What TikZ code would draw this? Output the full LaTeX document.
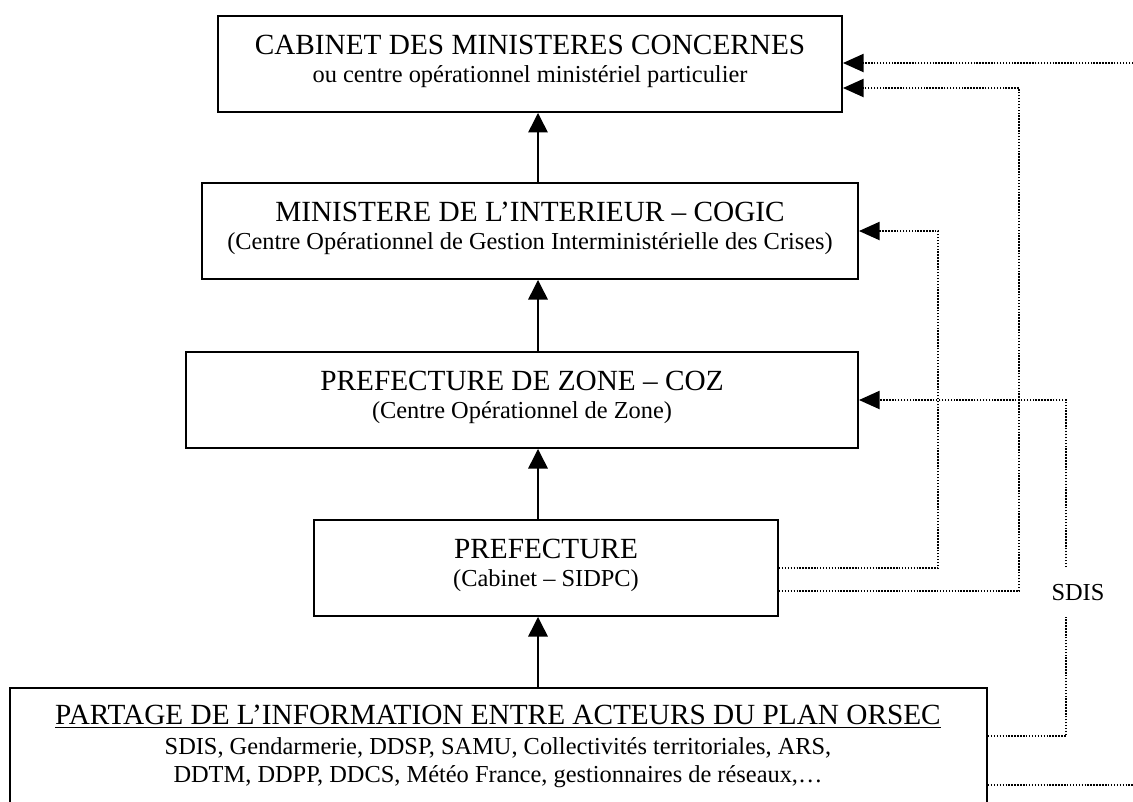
\documentclass[tikz,border=0pt]{standalone}
\usepackage{fontspec}
\setmainfont{Liberation Serif}
\usetikzlibrary{arrows.meta,fit}

\tikzset{
  box/.style={draw, line width=0.8pt, inner sep=0pt},
  title/.style={anchor=base, font=\large},
  sub/.style={anchor=base, font=\normalsize},
  flow/.style={line width=0.6pt, -{Triangle[length=8pt,width=8pt]}},
  linkline/.style={line width=0.6pt, dash pattern=on 0.6pt off 0.6pt},
  link/.style={linkline, -{Triangle[length=8.5pt,width=7.5pt]}}
}

\begin{document}
\begin{tikzpicture}[x=0.41pt, y=-0.41pt]
\useasboundingbox (0,0) rectangle (1133,801);
\clip (0,0) rectangle (1133,801);

% boxes
\node [box, fit={(218,16) (842,112)}] (cab) {};
\node [box, fit={(202,183) (858,279)}] (min) {};
\node [box, fit={(186,352) (858,448)}] (zone) {};
\node [box, fit={(314,520) (778,616)}] (pref) {};
\node [box, fit={(10,688) (987,830)}] (orsec) {};

\node [title] (cabTitle) at (530,54) {CABINET DES MINISTERES CONCERNES};
\node [sub] (cabSub) at (530,82) {ou centre opérationnel ministériel particulier};
\node [title] (minTitle) at (530,221) {MINISTERE DE L’INTERIEUR -- COGIC};
\node [sub] (minSub) at (530,249) {(Centre Opérationnel de Gestion Interministérielle des Crises)};
\node [title] (zoneTitle) at (522,390) {PREFECTURE DE ZONE -- COZ};
\node [sub] (zoneSub) at (522,418) {(Centre Opérationnel de Zone)};
\node [title] (prefTitle) at (546,558) {PREFECTURE};
\node [sub] (prefSub) at (546,586) {(Cabinet -- SIDPC)};
\node [title] (orsecTitle) at (498,724) {\underline{PARTAGE DE L’INFORMATION ENTRE ACTEURS DU PLAN ORSEC}};
\node [sub] (orsecLineA) at (498,754) {SDIS, Gendarmerie, DDSP, SAMU, Collectivités territoriales, ARS,};
\node [sub] (orsecLineB) at (498,782) {DDTM, DDPP, DDCS, Météo France, gestionnaires de réseaux,…};

\node [sub] (sdis) at (1078,600) {SDIS};

% vertical chain
\coordinate (ax) at (538,0);
\draw [flow] (orsec.north -| ax) -- (pref.south -| ax);
\draw [flow] (pref.north -| ax) -- (zone.south -| ax);
\draw [flow] (zone.north -| ax) -- (min.south -| ax);
\draw [flow] (min.north -| ax) -- (cab.south -| ax);

% dotted links on the right
\coordinate (bendMin) at (938,231);
\coordinate (bendCabLow) at (1019,591);
\coordinate (bendCabTop) at (1019,88);
\coordinate (edgeTop) at (1133,63);
\coordinate (edgeBot) at (1133,785);
\coordinate (sdisUp) at (1066,567);
\coordinate (sdisDown) at (1066,617);
\coordinate (bendSdis) at (1066,736);

\draw [link] (pref.east) -| (bendMin) -- (min.east);
\draw [link] (pref.east |- bendCabLow) -- (bendCabLow) -- (bendCabTop) -- (cab.east |- bendCabTop);
\draw [link] (edgeTop) -- (cab.east |- edgeTop);
\draw [link] (sdisUp) |- (zone.east);
\draw [linkline] (orsec.east |- bendSdis) -- (bendSdis) -- (sdisDown);
\draw [linkline] (orsec.east |- edgeBot) -- (edgeBot);
\end{tikzpicture}
\end{document}
